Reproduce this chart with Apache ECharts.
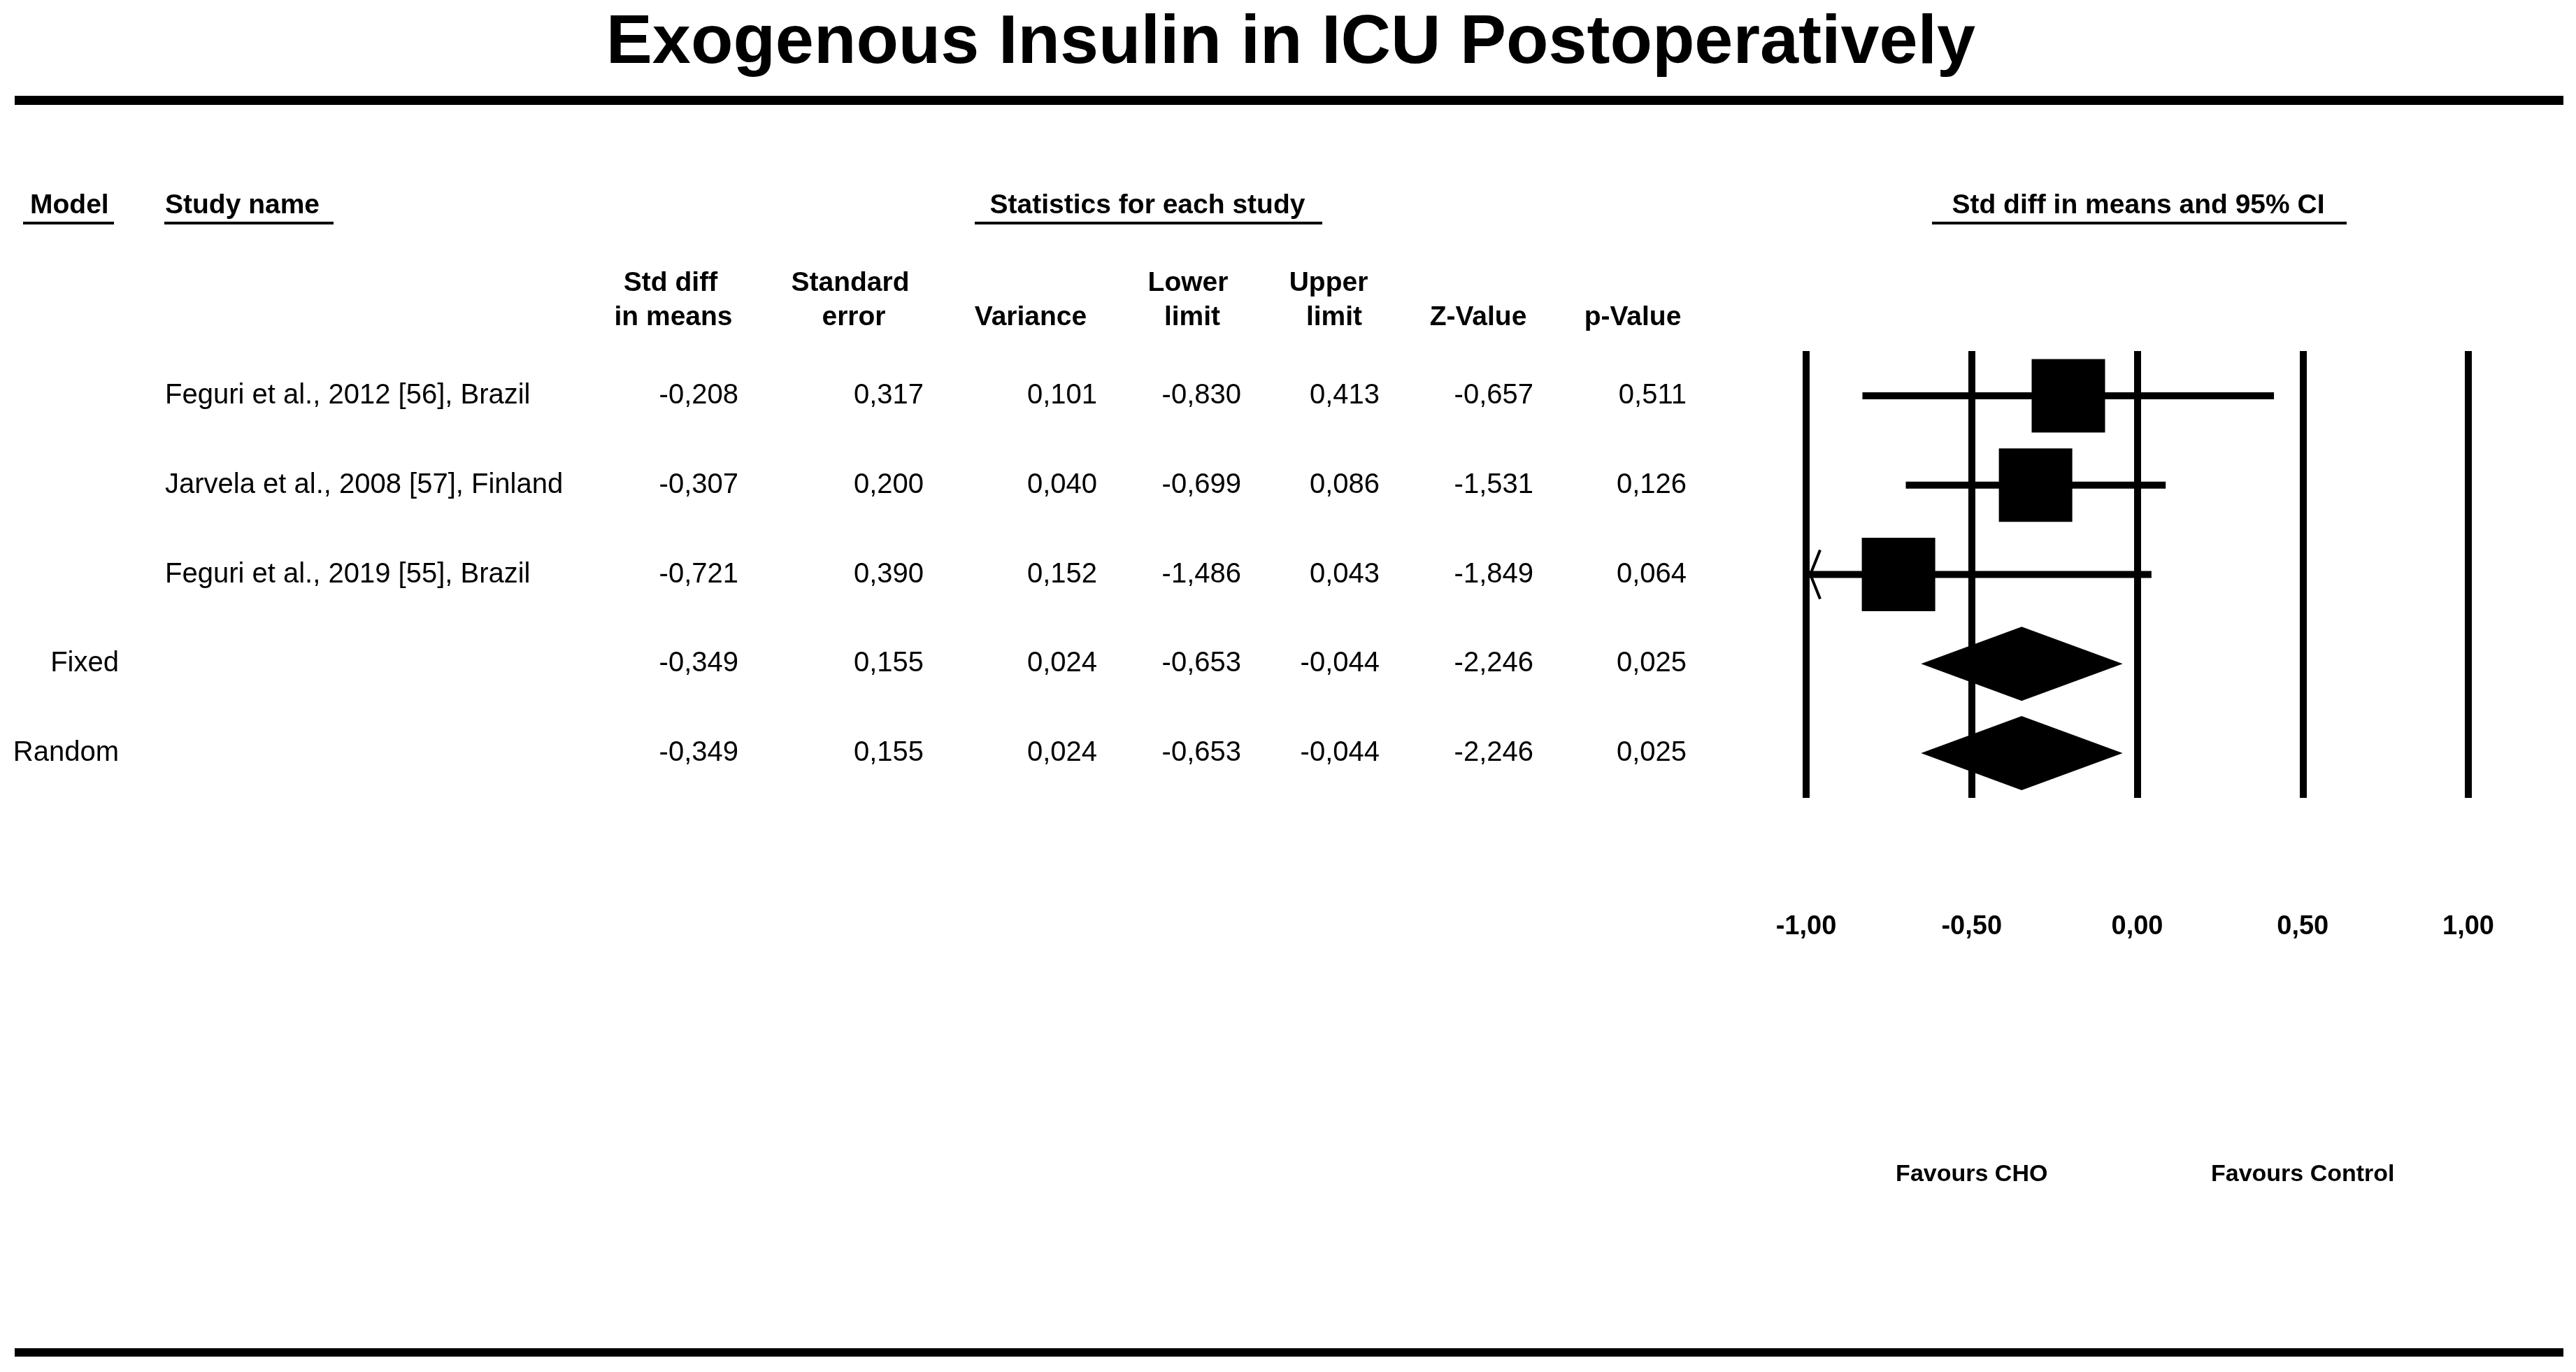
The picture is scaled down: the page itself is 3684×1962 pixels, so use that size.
<!DOCTYPE html>
<html>
<head>
<meta charset="utf-8">
<script src="https://cdn.jsdelivr.net/npm/echarts/dist/echarts.min.js"></script>
<style>
html,body{margin:0;padding:0;background:#ffffff;}
#chart{width:3684px;height:1962px;}
</style>
</head>
<body>
<div id="chart"></div>
<script>
// ---------------- data ----------------
const models   = ['', '', '', 'Fixed', 'Random'];
const studies  = ['Feguri et al., 2012 [56], Brazil', 'Jarvela et al., 2008 [57], Finland', 'Feguri et al., 2019 [55], Brazil', '', ''];
const rowKinds = ['study', 'study', 'study', 'summary', 'summary'];
const stdDiff  = [-0.208, -0.307, -0.721, -0.349, -0.349];
const stdErr   = [0.317, 0.200, 0.390, 0.155, 0.155];
const variance = [0.101, 0.040, 0.152, 0.024, 0.024];
const lowerLim = [-0.830, -0.699, -1.486, -0.653, -0.653];
const upperLim = [0.413, 0.086, 0.043, -0.044, -0.044];
const zValue   = [-0.657, -1.531, -1.849, -2.246, -2.246];
const pValue   = [0.511, 0.126, 0.064, 0.025, 0.025];
const xTicks   = [-1, -0.5, 0, 0.5, 1];
const favours  = ['Favours CHO', 'Favours Control'];
const favoursAt = [-0.5, 0.5];
const titleText = 'Exogenous Insulin in ICU Postoperatively';

// ---------------- layout / styles ----------------
const FONT = '"Liberation Sans", Arial, Helvetica, sans-serif';
const rowIdx = models.map((_, i) => i);
const fmt = (v, d) => v.toFixed(d).replace('.', ',');
const XMIN = xTicks[0], XMAX = xTicks[xTicks.length - 1];

const cols = [
  { vals: models,   x: 170,  align: 'right', num: false },
  { vals: studies,  x: 236,  align: 'left',  num: false },
  { vals: stdDiff,  x: 1056, align: 'right', num: true },
  { vals: stdErr,   x: 1321, align: 'right', num: true },
  { vals: variance, x: 1569, align: 'right', num: true },
  { vals: lowerLim, x: 1775, align: 'right', num: true },
  { vals: upperLim, x: 1973, align: 'right', num: true },
  { vals: zValue,   x: 2193, align: 'right', num: true },
  { vals: pValue,   x: 2412, align: 'right', num: true }
];

const colHeaders = [
  ['Std diff', 959, 405], ['in means', 963, 454],
  ['Standard', 1216, 405], ['error', 1221, 454],
  ['Variance', 1474, 454],
  ['Lower', 1699, 405], ['limit', 1705, 454],
  ['Upper', 1900, 405], ['limit', 1908, 454],
  ['Z-Value', 2114, 454],
  ['p-Value', 2335, 454]
];

const groupHeaders = [
  { text: 'Model', tx: 43, align: 'left', x1: 33, x2: 163 },
  { text: 'Study name', tx: 236, align: 'left', x1: 235, x2: 477 },
  { text: 'Statistics for each study', tx: 1641, align: 'center', x1: 1394, x2: 1891 },
  { text: 'Std diff in means and 95% CI', tx: 3058, align: 'center', x1: 2763, x2: 3356 }
];

const GRID_TOP = 502, GRID_H = 639;

const graphics = [];
graphics.push({ type: 'text', style: { text: titleText, x: 1846, y: 63, align: 'center', verticalAlign: 'middle',
  font: 'bold 99px ' + FONT, fill: '#000' } });
graphics.push({ type: 'rect', shape: { x: 21, y: 137, width: 3645, height: 13 }, style: { fill: '#000' } });
graphics.push({ type: 'rect', shape: { x: 21, y: 1928, width: 3645, height: 12 }, style: { fill: '#000' } });
groupHeaders.forEach(h => {
  graphics.push({ type: 'text', style: { text: h.text, x: h.tx, y: 294, align: h.align, verticalAlign: 'middle',
    font: 'bold 39px ' + FONT, fill: '#000' } });
  graphics.push({ type: 'rect', shape: { x: h.x1, y: 317, width: h.x2 - h.x1, height: 4 }, style: { fill: '#000' } });
});
colHeaders.forEach(h => {
  graphics.push({ type: 'text', style: { text: h[0], x: h[1], y: h[2], align: 'center', verticalAlign: 'middle',
    font: 'bold 39px ' + FONT, fill: '#000' } });
});

const chart = echarts.init(document.getElementById('chart'), null, { renderer: 'canvas' });

const option = {
  backgroundColor: '#ffffff',
  animation: false,
  textStyle: { fontFamily: FONT },
  grid: [
    { left: 0, top: GRID_TOP, width: 2450, height: GRID_H },
    { left: 2583, top: GRID_TOP, width: 947, height: GRID_H }
  ],
  xAxis: [
    { gridIndex: 0, type: 'value', min: 0, max: 2450, show: false },
    { gridIndex: 1, type: 'value', min: XMIN, max: XMAX, interval: 0.5,
      axisLine: { show: false }, axisTick: { show: false },
      splitLine: { show: true, lineStyle: { color: '#000', width: 10 } },
      axisLabel: { show: true, margin: 166, color: '#000', fontSize: 38, fontWeight: 'bold', fontFamily: FONT,
        formatter: v => fmt(v, 2), showMinLabel: true, showMaxLabel: true }
    },
    { gridIndex: 1, type: 'value', min: XMIN, max: XMAX, show: false, position: 'bottom' }
  ],
  yAxis: [
    { gridIndex: 0, type: 'category', data: rowIdx, inverse: true, show: false },
    { gridIndex: 1, type: 'category', data: rowIdx, inverse: true, show: false }
  ],
  graphic: graphics,
  series: [
    {
      type: 'custom', name: 'table', xAxisIndex: 0, yAxisIndex: 0, clip: false, silent: true,
      data: rowIdx.map(i => [0, i]),
      renderItem: function (params, api) {
        const i = params.dataIndex;
        const y = api.coord([0, i])[1];
        const children = cols.map(c => {
          const v = c.vals[i];
          const txt = c.num ? fmt(v, 3) : v;
          return { type: 'text', style: { text: txt, x: api.coord([c.x, i])[0], y: y, align: c.align,
            verticalAlign: 'middle', font: '40px ' + FONT, fill: '#000' } };
        });
        return { type: 'group', children: children };
      }
    },
    {
      type: 'custom', name: 'forest', xAxisIndex: 1, yAxisIndex: 1, clip: false, silent: true,
      data: rowIdx.map(i => [stdDiff[i], i]),
      renderItem: function (params, api) {
        const i = params.dataIndex;
        const y = api.coord([0, i])[1];
        const lo = Math.max(lowerLim[i], XMIN), hi = Math.min(upperLim[i], XMAX);
        const xLo = api.coord([lo, i])[0], xHi = api.coord([hi, i])[0];
        const xM = api.coord([stdDiff[i], i])[0];
        const children = [];
        if (rowKinds[i] === 'study') {
          children.push({ type: 'line', shape: { x1: xLo, y1: y, x2: xHi, y2: y },
            style: { stroke: '#000', lineWidth: 10 } });
          if (lowerLim[i] < XMIN) {
            children.push({ type: 'polyline', shape: { points: [[xLo + 20, y - 35], [xLo + 6, y], [xLo + 20, y + 35]] },
              style: { stroke: '#000', lineWidth: 4, fill: null } });
          }
          const s = 105;
          children.push({ type: 'rect', shape: { x: xM - s / 2, y: y - s / 2, width: s, height: s },
            style: { fill: '#000' } });
        } else {
          const h = 53;
          children.push({ type: 'polygon', shape: { points: [[xLo, y], [xM, y - h], [xHi, y], [xM, y + h]] },
            style: { fill: '#000' } });
        }
        return { type: 'group', children: children };
      }
    },
    {
      type: 'custom', name: 'favours', xAxisIndex: 2, yAxisIndex: 1, clip: false, silent: true,
      data: favours.map((f, k) => [favoursAt[k], 0]),
      renderItem: function (params, api) {
        const k = params.dataIndex;
        const x = api.coord([favoursAt[k], 0])[0];
        return { type: 'text', style: { text: favours[k], x: x, y: 1680, align: 'center', verticalAlign: 'middle',
          font: 'bold 34px ' + FONT, fill: '#000' } };
      }
    }
  ]
};
chart.setOption(option);
</script>
</body>
</html>
